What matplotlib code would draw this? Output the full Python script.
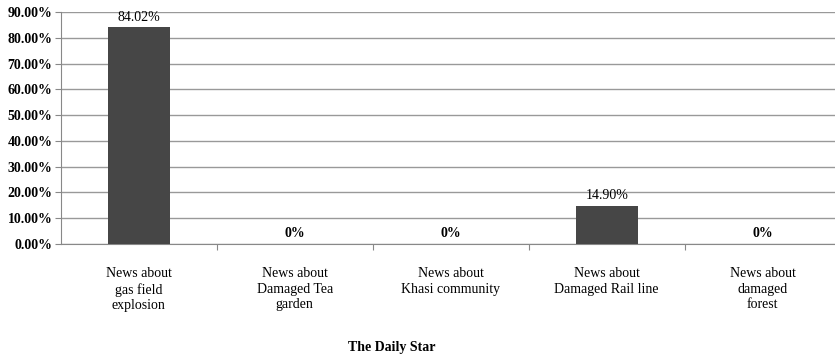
import matplotlib
matplotlib.use("Agg")
import matplotlib.pyplot as plt
from matplotlib.ticker import FuncFormatter

categories = ["News about\ngas field\nexplosion", "News about\nDamaged Tea\ngarden",
              "News about\nKhasi community", "News about\nDamaged Rail line",
              "News about\ndamaged\nforest"]
values = [84.02, 0, 0, 14.90, 0]
value_labels = ["84.02%", "0%", "0%", "14.90%", "0%"]
yticks = [0, 10, 20, 30, 40, 50, 60, 70, 80, 90]
title = "The Daily Star"

plt.rcParams['font.family'] = ['Liberation Serif', 'DejaVu Serif']

fig = plt.figure(figsize=(8.35, 3.56), dpi=100)
ax = fig.add_axes([60.7/835, 1-244/356, 780/835, 232/356])

x = list(range(len(values)))
ax.bar(x, values, width=0.4, color='#464646', zorder=3)
ax.set_xlim(-0.5, len(values)-0.5)
ax.set_ylim(0, 90)
ax.set_yticks(yticks)
ax.yaxis.set_major_formatter(FuncFormatter(lambda v, p: f"{v:.2f}%"))
for lbl in ax.get_yticklabels():
    lbl.set_fontweight('bold')
ax.tick_params(axis='y', labelsize=10, length=4, color='#888888', pad=2)
ax.grid(axis='y', color='#999999', linewidth=1, zorder=0)

ax.set_xticks([i - 0.5 for i in range(1, len(values))])
ax.set_xticklabels([])
ax.tick_params(axis='x', length=4, color='#888888', direction='out')
for i, c in enumerate(categories):
    ax.text(i, -9, c, ha='center', va='top', fontsize=10, linespacing=1.25)

for i, (v, t) in enumerate(zip(values, value_labels)):
    ax.text(i, v + 1.5, t, ha='center', va='bottom', fontsize=10,
            fontweight='bold' if v == 0 else 'normal')

for s in ['top', 'right']:
    ax.spines[s].set_visible(False)
ax.spines['left'].set_color('#888888')
ax.spines['bottom'].set_color('#888888')

fig.text(392/835, 1-347/356, title, ha='center', va='center', fontsize=10, fontweight='bold')

fig.savefig("out.png", dpi=100, facecolor='white')
